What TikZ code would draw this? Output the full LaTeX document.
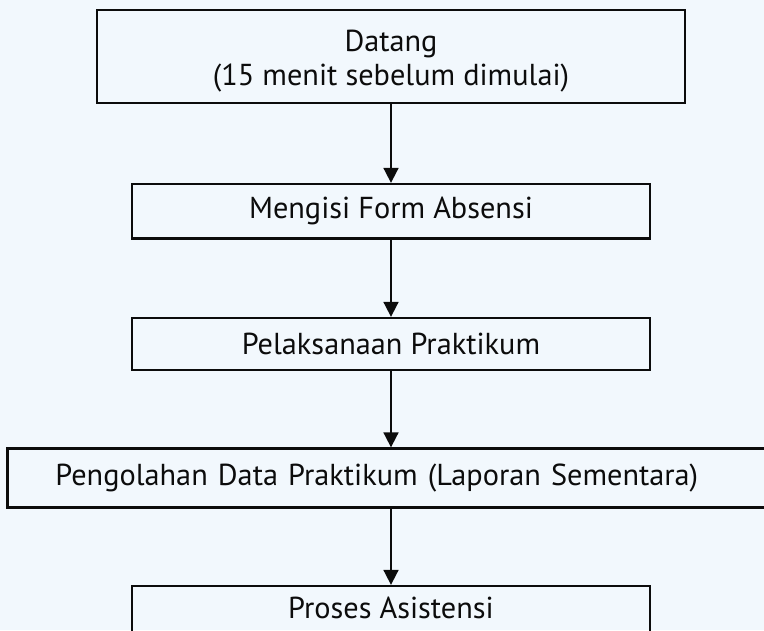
\documentclass[tikz,border=0pt]{standalone}
\usepackage{fontspec}
\setmainfont{PT Sans}
\usetikzlibrary{arrows.meta}
\definecolor{bg}{RGB}{242,248,253}
\definecolor{ink}{RGB}{12,12,12}
\begin{document}
\begin{tikzpicture}[x=1pt,y=-1pt,
  box/.style={draw=ink,line width=2.3pt,rectangle,inner sep=0pt,text=ink,
    font=\fontsize{30.3}{34}\selectfont},
  flow/.style={draw=ink,line width=1.8pt,-{Triangle[width=15pt,length=15pt]}}]
\fill[bg] (0,0) rectangle (764,630);
\useasboundingbox (0,0) rectangle (764,630);
\node[box,minimum width=588.5pt,minimum height=93pt,align=center] (b1) at (391,56.5)
  {\rule{0pt}{30pt}Datang\\(15 menit sebelum dimulai)};
\node[box,minimum width=518pt,minimum height=54.5pt] (b2) at (391,211.25)
  {Mengisi Form Absensi};
\node[box,minimum width=518pt,minimum height=52pt] (b3) at (391,344)
  {Pelaksanaan Praktikum};
\node[box,minimum height=59pt,inner xsep=48pt,text width=673pt,align=left,anchor=west] (b4) at (6.3,478)
  {Pengolahan Data Praktikum (Laporan Sementara)};
\node[box,minimum width=518pt,minimum height=60pt,text height=24pt,text depth=20pt] (b5) at (391,616)
  {Proses Asistensi};
\draw[flow] (b1.south) -- (b2.north);
\draw[flow] (b2.south) -- (b3.north);
\draw[flow] (b3.south) -- (b3.south |- b4.north);
\draw[flow] (b4.south -| b3.south) -- (b5.north);
\end{tikzpicture}
\end{document}
